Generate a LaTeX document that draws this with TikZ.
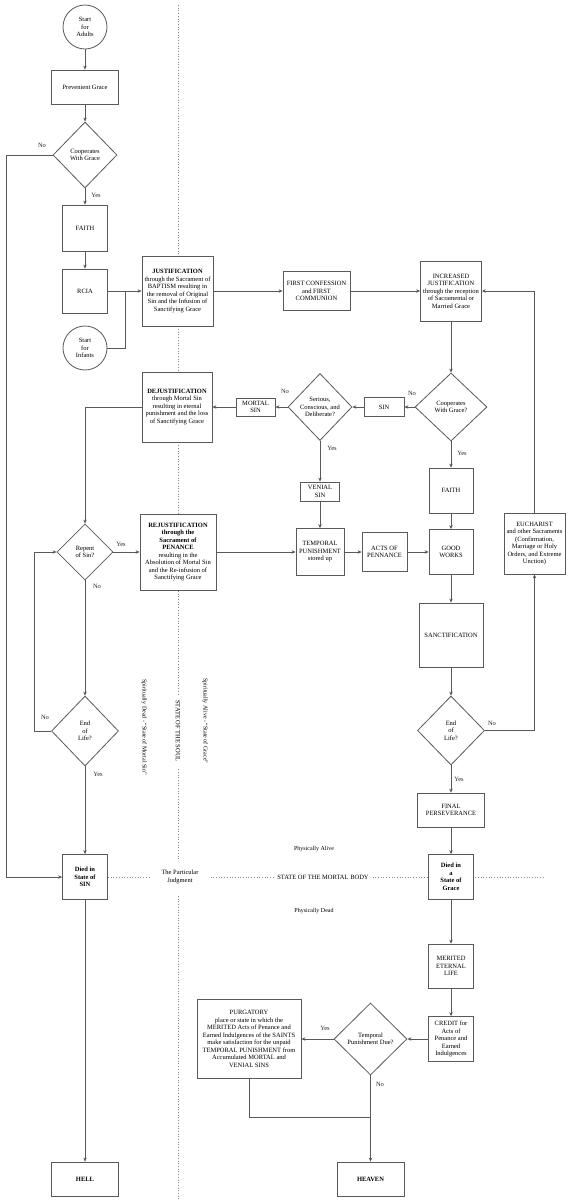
\documentclass[tikz,border=0pt]{standalone}
\usepackage{fontspec}
\setmainfont{Liberation Serif}
\usetikzlibrary{shapes.geometric,arrows.meta}

\begin{document}
\begin{tikzpicture}[x=1pt,y=-1pt,->,>={Stealth[length=4pt,width=3.5pt]},font=\fontsize{6.5}{7.5}\selectfont]
	\tikzstyle{box}=[rectangle,draw=black!65,fill=white,line width=0.8pt,align=center,inner sep=1pt]
	\tikzstyle{start}=[circle,draw=black!65,fill=white,line width=0.8pt,align=center,minimum size=44pt,inner sep=0pt]
	\tikzstyle{decision}=[diamond,draw=black!65,fill=white,line width=0.8pt,align=center,inner sep=0pt]
	\tikzstyle{edge}=[draw=black!65,line width=0.8pt]
	\tikzstyle{divider}=[draw=black!45,dotted,line width=0.7pt,-]
	\tikzstyle{lbl}=[inner sep=0pt,text=black!85]
	\tikzstyle{note}=[inner sep=0pt,font=\fontsize{6}{7}\selectfont]

	\useasboundingbox (0,0) rectangle (568,1200);

	\begin{scope}
		% dividing lines
		\coordinate (soultop) at (178,5);
		\coordinate (soulbot) at (178,1200);
		\coordinate (bodystart) at (108,877);
		\coordinate (bodyend) at (545,877);
		\path[divider] (soultop) -- (soulbot);
		\path[divider] (bodystart) -- (bodyend);

		\node [fill=white,align=center,inner xsep=11pt,inner ysep=10pt] (judgment) at (180,877) {The Particular\\Judgment};
		\node [fill=white,inner xsep=2pt,inner ysep=2pt] (body) at (323,877) {STATE OF THE MORTAL BODY};
		\node [fill=white,inner xsep=5pt,inner ysep=1pt,rotate=-90] (soul) at (178,731) {STATE OF THE SOUL};
		\node [note,rotate=-90] (deadsoul) at (144,727) {Spiritually Dead - ``State of Mortal Sin''};
		\node [note,rotate=-90] (alivesoul) at (205,721) {Spiritually Alive - ``State of Grace''};
		\node [note] (alive) at (314,849) {Physically Alive};
		\node [note] (dead) at (314,911) {Physically Dead};

		% left column
		\node [start] (adults) at (85,27) {Start\\for\\Adults};
		\node [box,minimum width=67pt,minimum height=34pt] (prevenient) at (85,87) {Prevenient Grace};
		\node [decision,minimum width=64pt,minimum height=66pt] (coopA) at (85,155) {Cooperates\\With Grace};
		\node [box,minimum width=45pt,minimum height=46pt] (faithA) at (85,228) {FAITH};
		\node [box,minimum width=45pt,minimum height=44pt] (rcia) at (85,291) {RCIA};
		\node [start] (infants) at (85,348) {Start\\for\\Infants};
		\node [decision,minimum width=56pt,minimum height=56pt] (repent) at (85,552) {Repent\\of Sin?};
		\node [decision,minimum width=67pt,minimum height=70pt] (eolA) at (85,731) {End\\of\\Life?};
		\node [box,minimum width=45pt,minimum height=45pt] (diedsin) at (85,877) {\textbf{Died in}\\\textbf{State of}\\\textbf{SIN}};
		\node [box,minimum width=67pt,minimum height=34pt] (hell) at (85,1179) {\textbf{HELL}};

		% soul column
		\node [box,minimum width=71pt,minimum height=70pt] (just) at (177.5,291) {\textbf{JUSTIFICATION}\\through the Sacrament of\\BAPTISM resulting in\\the removal of Original\\Sin and the Infusion of\\Sanctifying Grace};
		\node [box,minimum width=70pt,minimum height=70pt] (dejust) at (177,407) {\textbf{DEJUSTIFICATION}\\through Mortal Sin\\resulting in eternal\\punishment and the loss\\of Sanctifying Grace};
		\node [box,minimum width=76pt,minimum height=76pt] (rejust) at (178,552) {\textbf{REJUSTIFICATION}\\\textbf{through the}\\\textbf{Sacrament of}\\\textbf{PENANCE}\\resulting in the\\Absolution of Mortal Sin\\and the Re-infusion of\\Sanctifying Grace};

		% middle
		\node [box,minimum width=67pt,minimum height=39pt] (firstcomm) at (316.5,291) {FIRST CONFESSION\\and FIRST\\COMMUNION};
		\node [box,minimum width=39pt,minimum height=18pt] (mortal) at (255.5,407) {MORTAL\\SIN};
		\node [decision,minimum width=64pt,minimum height=67pt] (serious) at (320,407) {Serious,\\Conscious, and\\Deliberate?};
		\node [box,minimum width=40pt,minimum height=19pt] (sin) at (384,407) {SIN};
		\node [box,minimum width=39pt,minimum height=19pt] (venial) at (320,491.5) {VENIAL\\SIN};
		\node [box,minimum width=48pt,minimum height=47pt] (temp) at (320,552) {TEMPORAL\\PUNISHMENT\\stored up};
		\node [box,minimum width=45pt,minimum height=39pt] (acts) at (384.5,552) {ACTS OF\\PENNANCE};

		% right column
		\node [box,minimum width=61pt,minimum height=60pt] (incr) at (451,291) {INCREASED\\JUSTIFICATION\\through the reception\\of Sacramental or\\Married Grace};
		\node [decision,minimum width=72pt,minimum height=68pt] (coopB) at (451,407) {Cooperates\\With Grace?};
		\node [box,minimum width=44pt,minimum height=45pt] (faithB) at (451,490.5) {FAITH};
		\node [box,minimum width=44pt,minimum height=45pt] (good) at (451,552) {GOOD\\WORKS};
		\node [box,minimum width=64pt,minimum height=64pt] (sanct) at (451,635) {SANCTIFICATION};
		\node [decision,minimum width=67pt,minimum height=69pt] (eolB) at (451,730.5) {End\\of\\Life?};
		\node [box,minimum width=67pt,minimum height=34pt] (finalp) at (451,810) {FINAL\\PERSEVERANCE};
		\node [box,minimum width=45pt,minimum height=45pt] (diedgrace) at (451,877) {\textbf{Died in}\\\textbf{a}\\\textbf{State of}\\\textbf{Grace}};
		\node [box,minimum width=45pt,minimum height=44pt] (merited) at (451,966) {MERITED\\ETERNAL\\LIFE};
		\node [box,minimum width=45pt,minimum height=45pt] (credit) at (451,1039) {CREDIT for\\Acts of\\Penance and\\Earned\\Indulgences};
		\node [box,minimum width=61pt,minimum height=61pt] (euch) at (534.5,543.5) {EUCHARIST\\and other Sacraments\\(Confirmation,\\Marriage or Holy\\Orders, and Extreme\\Unction)};

		% after death
		\node [decision,minimum width=73pt,minimum height=72pt] (tpdue) at (370.5,1039) {Temporal\\Punishment Due?};
		\node [box,minimum width=104pt,minimum height=79pt] (purg) at (249,1039) {PURGATORY\\place or state in which the\\MERITED Acts of Penance and\\Earned Indulgences of the SAINTS\\make satisfaction for the unpaid\\TEMPORAL PUNISHMENT from\\Accumulated MORTAL and\\VENIAL SINS};
		\node [box,minimum width=67pt,minimum height=34pt] (heaven) at (370.5,1179) {\textbf{HEAVEN}};

		\coordinate (join) at (125,291);
		\coordinate (merge) at (370.5,1117);

		% yes / no
		\node [lbl] (noA) at (42,145) {No};
		\node [lbl] (yesA) at (96,195) {Yes};
		\node [lbl] (noB) at (412,393) {No};
		\node [lbl] (noC) at (285,391) {No};
		\node [lbl] (yesC) at (332,448) {Yes};
		\node [lbl] (yesB) at (462,453) {Yes};
		\node [lbl] (yesD) at (121,544) {Yes};
		\node [lbl] (noD) at (97,586) {No};
		\node [lbl] (noE) at (45,717) {No};
		\node [lbl] (yesE) at (98,774) {Yes};
		\node [lbl] (noF) at (492,723) {No};
		\node [lbl] (yesF) at (459,779) {Yes};
		\node [lbl] (yesG) at (325,1028) {Yes};
		\node [lbl] (noG) at (380,1084) {No};

		\path[edge] (adults) edge (prevenient);
		\path[edge] (prevenient) edge (coopA);
		\path[edge] (coopA) edge (faithA);
		\path[edge] (faithA) edge (rcia);
		\path[edge] (rcia) edge (just);
		\draw[edge,-] (infants) -| (join);
		\path[edge] (just) edge (firstcomm);
		\path[edge] (firstcomm) edge (incr);
		\path[edge] (incr) edge (coopB);
		\path[edge] (coopB) edge (sin);
		\path[edge] (sin) edge (serious);
		\path[edge] (serious) edge (mortal);
		\path[edge] (mortal) edge (dejust);
		\draw[edge] (dejust) -| (repent);
		\path[edge] (serious) edge (venial);
		\path[edge] (venial) edge (temp);
		\path[edge] (temp) edge (acts);
		\path[edge] (acts) edge (good);
		\path[edge] (coopB) edge (faithB);
		\path[edge] (faithB) edge (good);
		\path[edge] (good) edge (sanct);
		\path[edge] (sanct) edge (eolB);
		\draw[edge] (eolB) -| (euch);
		\draw[edge] (euch) |- (incr);
		\path[edge] (eolB) edge (finalp);
		\path[edge] (finalp) edge (diedgrace);
		\path[edge] (diedgrace) edge (merited);
		\path[edge] (merited) edge (credit);
		\path[edge] (credit) edge (tpdue);
		\path[edge] (tpdue) edge (purg);
		\path[edge] (tpdue) edge (heaven);
		\draw[edge,-] (purg) |- (merge);
		\path[edge] (repent) edge (rejust);
		\path[edge] (rejust) edge (temp);
		\path[edge] (repent) edge (eolA);
		\draw[edge] (eolA.west) -- ++(-17,0) |- (repent.west);
		\draw[edge] (coopA.west) -- ++(-46,0) |- (diedsin.west);
		\path[edge] (eolA) edge (diedsin);
		\path[edge] (diedsin) edge (hell);
	\end{scope}
\end{tikzpicture}
\end{document}
